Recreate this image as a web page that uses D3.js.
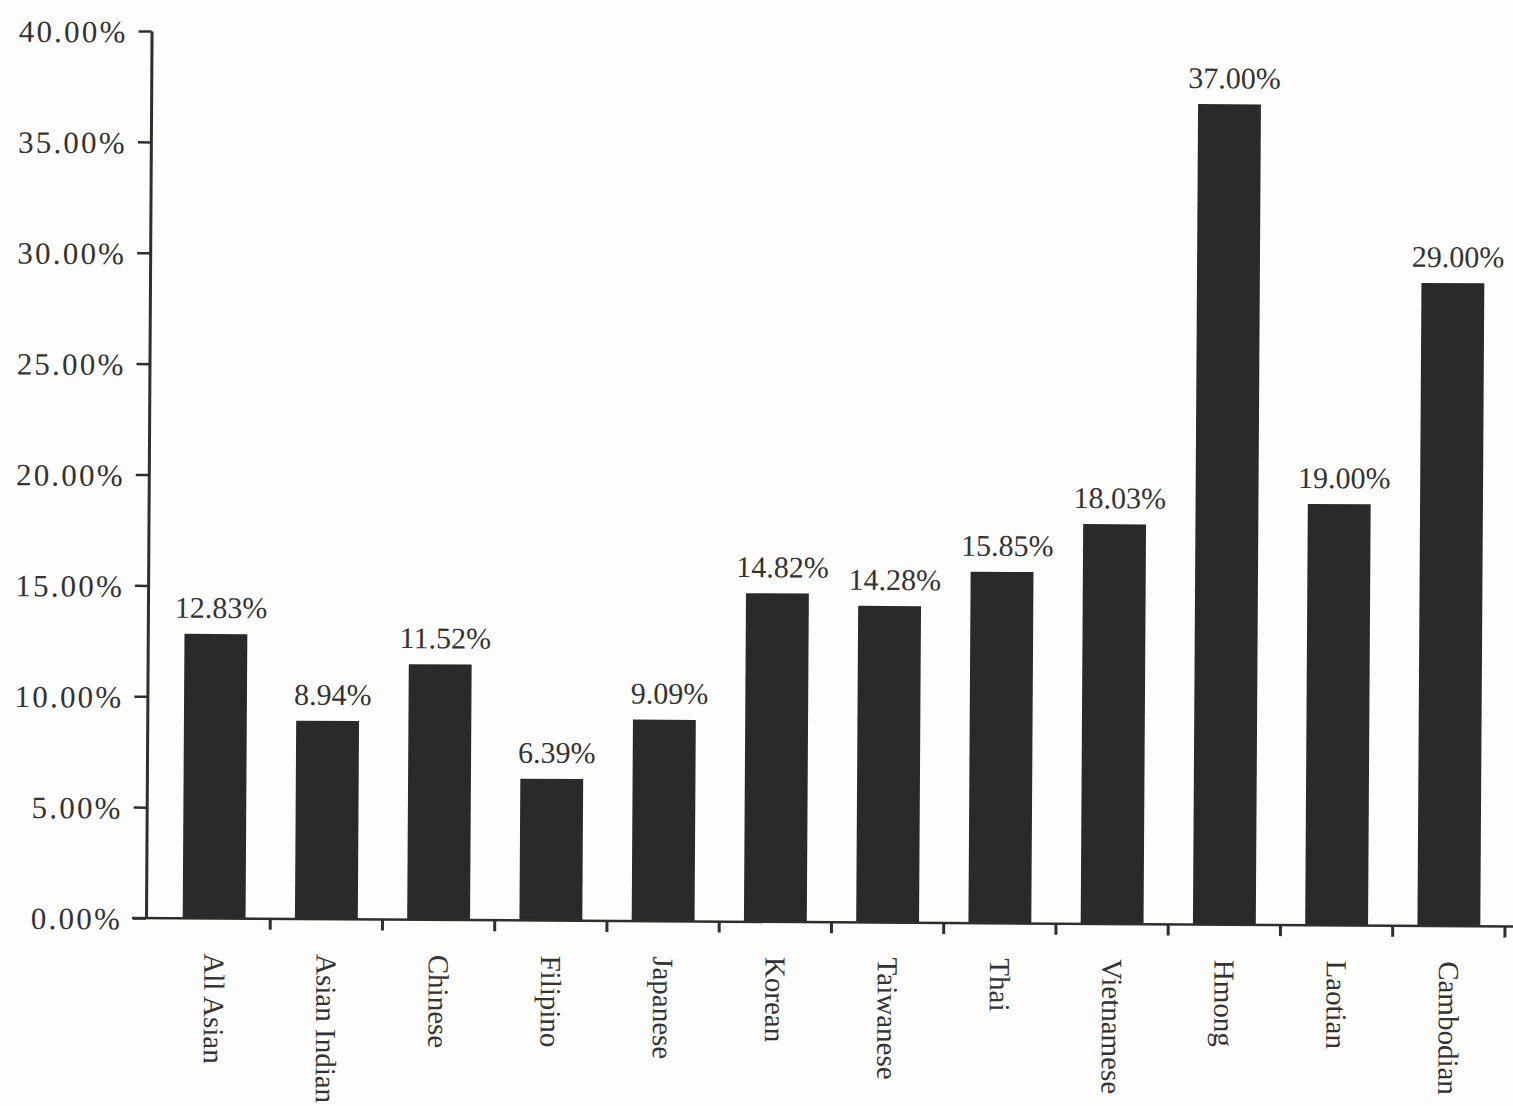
<!DOCTYPE html>
<html>
<head>
<meta charset="utf-8">
<script src="https://cdn.jsdelivr.net/npm/d3@7"></script>
<style>
  html, body { margin: 0; padding: 0; background: #fdfdfb; }
  svg { display: block; }
  text { font-family: "Liberation Serif", "Times New Roman", serif; fill: #333; }
</style>
</head>
<body>
<svg id="chart" width="1513" height="1106"></svg>
<script>
// ---- data ----
const categories = ["All Asian", "Asian Indian", "Chinese", "Filipino", "Japanese", "Korean",
                    "Taiwanese", "Thai", "Vietnamese", "Hmong", "Laotian", "Cambodian"];
const values = [12.83, 8.94, 11.52, 6.39, 9.09, 14.82, 14.28, 15.85, 18.03, 37.00, 19.00, 29.00];
const valueLabels = ["12.83%", "8.94%", "11.52%", "6.39%", "9.09%", "14.82%",
                     "14.28%", "15.85%", "18.03%", "37.00%", "19.00%", "29.00%"];
const yTicks = [0, 5, 10, 15, 20, 25, 30, 35, 40];
const yTickLabels = ["0.00%", "5.00%", "10.00%", "15.00%", "20.00%", "25.00%", "30.00%", "35.00%", "40.00%"];

// ---- layout ----
const svg = d3.select("#chart");
svg.append("rect").attr("width", 1513).attr("height", 1106).attr("fill", "#fdfdfb");

const axisX = 146, baseY = 918;
// slight tilt reproduces the scanned page
const g = svg.append("g").attr("transform", `rotate(0.36, ${axisX}, ${baseY})`);

const x = d3.scaleBand().domain(categories).range([158, 1505])
  .paddingInner(0.44).paddingOuter(0.22);
const y = d3.scaleLinear().domain([0, 40]).range([baseY, 31]);

const data = categories.map((c, i) => ({ c, v: values[i], label: valueLabels[i] }));

// bars
g.selectAll("rect.bar").data(data).join("rect")
  .attr("class", "bar")
  .attr("x", d => x(d.c))
  .attr("y", d => y(d.v))
  .attr("width", x.bandwidth())
  .attr("height", d => y(0) - y(d.v))
  .attr("fill", "#2a2a2a");

// value labels
g.selectAll("text.val").data(data).join("text")
  .attr("class", "val")
  .attr("x", d => x(d.c) + x.bandwidth() / 2 + 5)
  .attr("y", d => y(d.v) - 16)
  .attr("text-anchor", "middle")
  .style("font-size", "30px")
  .text(d => d.label);

// y axis
const yAxis = d3.axisLeft(y)
  .tickValues(yTicks)
  .tickFormat((d, i) => yTickLabels[i])
  .tickSize(13).tickSizeOuter(0).tickPadding(6);
const ya = g.append("g").attr("transform", `translate(${axisX},0)`).call(yAxis);
ya.select(".domain").attr("stroke", "#2e2e2e").attr("stroke-width", 3);
ya.selectAll(".tick line").attr("stroke", "#2e2e2e").attr("stroke-width", 2.5);
ya.selectAll(".tick text")
  .attr("fill", "#333")
  .style("font-family", "'Liberation Serif', 'Times New Roman', serif")
  .style("font-size", "31px")
  .style("letter-spacing", "2.2px")
  .attr("x", -24)
  .attr("dy", "0.36em");

// x axis line
g.append("line")
  .attr("x1", 132).attr("x2", 1530)
  .attr("y1", baseY).attr("y2", baseY)
  .attr("stroke", "#2e2e2e").attr("stroke-width", 2.5);

// x ticks at category boundaries
const boundaries = categories.map(c => x(c) + x.bandwidth() + x.step() * x.paddingInner() / 2);
g.selectAll("line.xtick").data(boundaries).join("line")
  .attr("class", "xtick")
  .attr("x1", d => d).attr("x2", d => d)
  .attr("y1", baseY).attr("y2", baseY + 11)
  .attr("stroke", "#2e2e2e").attr("stroke-width", 3);

// category labels (rotated, reading downward)
g.selectAll("text.cat").data(categories).join("text")
  .attr("class", "cat")
  .attr("transform", c => `translate(${x(c) + x.bandwidth() / 2}, ${baseY + 35}) rotate(90)`)
  .attr("dy", "0.33em")
  .attr("text-anchor", "start")
  .style("font-size", "29px")
  .text(c => c);
</script>
</body>
</html>
